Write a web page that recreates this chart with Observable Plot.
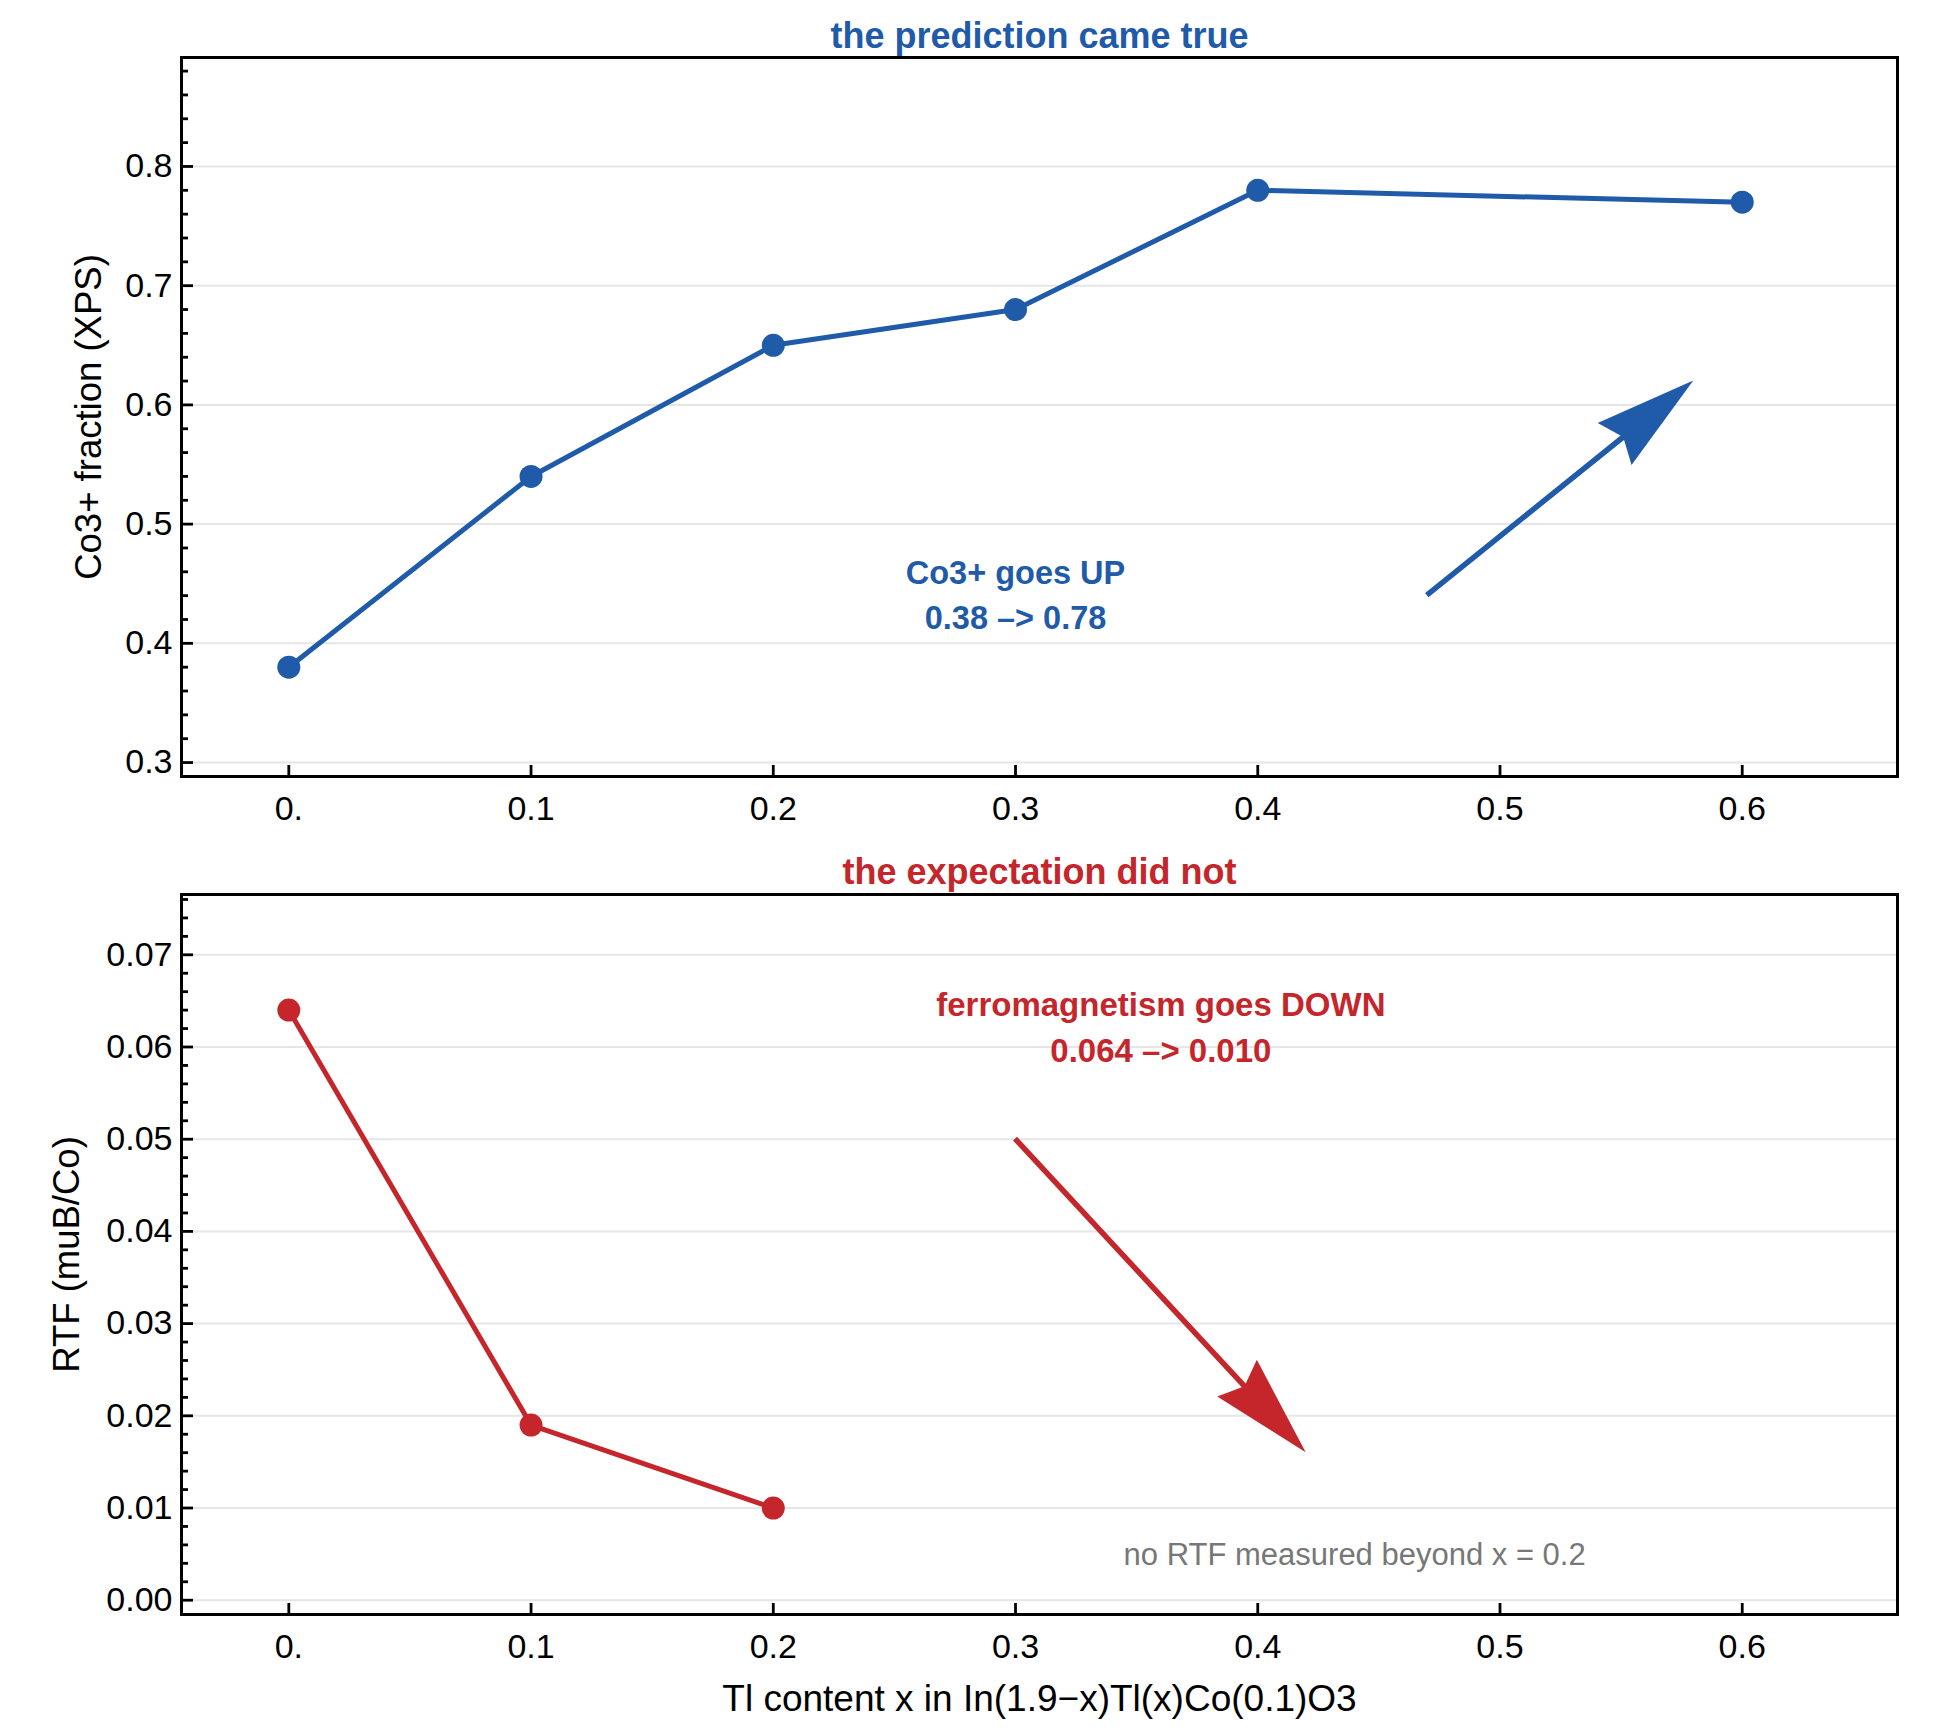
<!DOCTYPE html>
<html><head><meta charset="utf-8">
<script src="https://cdn.jsdelivr.net/npm/d3@7"></script>
<script src="https://cdn.jsdelivr.net/npm/@observablehq/plot@0.6"></script>
<style>
body{margin:0;background:#fff;}
#chart svg{display:block;}
</style>
</head><body><div id="chart"></div>
<script>
// ---- data ----
const tlContent = [0, 0.1, 0.2, 0.3, 0.4, 0.6];
const co3Fraction = [0.38, 0.54, 0.65, 0.68, 0.78, 0.77];
const rtfContent = [0, 0.1, 0.2];
const rtfValues = [0.064, 0.019, 0.010];

const xTicks = [0, 0.1, 0.2, 0.3, 0.4, 0.5, 0.6];
const xTickLabels = ["0.", "0.1", "0.2", "0.3", "0.4", "0.5", "0.6"];
const topYTicks = [0.3, 0.4, 0.5, 0.6, 0.7, 0.8];
const topYTickLabels = ["0.3", "0.4", "0.5", "0.6", "0.7", "0.8"];
const botYTicks = [0, 0.01, 0.02, 0.03, 0.04, 0.05, 0.06, 0.07];
const botYTickLabels = ["0.00", "0.01", "0.02", "0.03", "0.04", "0.05", "0.06", "0.07"];

const topTitle = "the prediction came true";
const botTitle = "the expectation did not";
const topYLabel = "Co3+ fraction (XPS)";
const botYLabel = "RTF (muB/Co)";
const xLabel = "Tl content x in In(1.9\u2212x)Tl(x)Co(0.1)O3";

const upArrow = [{x1: 0.47, y1: 0.44, x2: 0.58, y2: 0.62}];
const downArrow = [{x1: 0.30, y1: 0.050, x2: 0.42, y2: 0.016}];
const upNote = [{x: 0.30, y: 0.443, text: "Co3+ goes UP\n0.38 \u2013> 0.78"}];
const downNote = [{x: 0.36, y: 0.0625, text: "ferromagnetism goes DOWN\n0.064 \u2013> 0.010"}];
const grayNote = [{x: 0.44, y: 0.0049, text: "no RTF measured beyond x = 0.2"}];

// ---- styling ----
const BLUE = "#1f5ba8", RED = "#c4262b", GRAY = "#777777";
const FONT = "'Liberation Sans', Arial, Helvetica, sans-serif";
const xDomain = [-0.0443, 0.6641];

const topMinor = [];
for (let k = 16; k <= 44; k++) if (k % 5) topMinor.push(k * 0.02);
const botMinor = [];
for (let k = 1; k <= 38; k++) if (k % 5) botMinor.push(k * 0.002);

const fmtFrom = (ticks, labels) => d => { const i = ticks.findIndex(t => Math.abs(t - d) < 1e-9); return i >= 0 ? labels[i] : ""; };

function filledArrow(data, color) {
  return Plot.link(data, {
    x1: "x1", y1: "y1", x2: "x2", y2: "y2", stroke: color, strokeWidth: 5.5,
    render(index, scales, values, dimensions, context) {
      const g = d3.create("svg:g");
      for (const i of index) {
        const ax = values.x1[i], ay = values.y1[i], bx = values.x2[i], by = values.y2[i];
        const dx = bx - ax, dy = by - ay, L = Math.hypot(dx, dy);
        const ux = dx / L, uy = dy / L, nx = -uy, ny = ux;
        const headLen = 101, half = 27, notch = 90;
        const cx = bx - notch * ux, cy = by - notch * uy;
        g.append("line").attr("x1", ax).attr("y1", ay).attr("x2", cx + 6 * ux).attr("y2", cy + 6 * uy)
          .attr("stroke", color).attr("stroke-width", 5.5);
        const p = [
          [bx, by],
          [bx - headLen * ux + half * nx, by - headLen * uy + half * ny],
          [cx, cy],
          [bx - headLen * ux - half * nx, by - headLen * uy - half * ny]
        ];
        g.append("path").attr("d", "M" + p.map(q => q.join(",")).join("L") + "Z").attr("fill", color);
      }
      return g.node();
    }
  });
}

function panel({height, marginTop, marginBottom, yDomain, yTicks, yLabels, yMinor, title, titleColor, titleDy, yLabel, yLabelDx, marks, showXLabel}) {
  return Plot.plot({
    width: 1945, height,
    marginLeft: 181, marginRight: 48, marginTop, marginBottom,
    style: {fontFamily: FONT, fontSize: "34px", background: "#fff", color: "#000", overflow: "visible"},
    x: {domain: xDomain},
    y: {domain: yDomain},
    marks: [
      Plot.gridY(yTicks, {stroke: "#e6e6e6", strokeOpacity: 1, strokeWidth: 2}),
      ...marks,
      Plot.frame({stroke: "#000", strokeWidth: 3}),
      Plot.axisY(yTicks, {fill: "none", stroke: "#000", tickSize: -12, strokeWidth: 2.8, label: null}),
      Plot.axisY(yMinor, {fill: "none", stroke: "#000", tickSize: -7, strokeWidth: 2.8, label: null}),
      Plot.axisY(yTicks, {tickSize: 0, tickPadding: 9, tickFormat: fmtFrom(yTicks, yLabels), fontSize: 34, fill: "#000", label: null}),
      Plot.axisX(xTicks, {fill: "none", stroke: "#000", tickSize: -11, strokeWidth: 2.8, label: null}),
      Plot.axisX(xTicks, {tickSize: 0, tickPadding: 19, tickFormat: fmtFrom(xTicks, xTickLabels), fontSize: 34, fill: "#000", label: null}),
      Plot.text([title], {frameAnchor: "top", dy: titleDy, lineAnchor: "bottom", fill: titleColor, fontWeight: "bold", fontSize: 36}),
      Plot.text([yLabel], {frameAnchor: "left", dx: yLabelDx, rotate: -90, fill: "#000", fontSize: 36.5, textAnchor: "middle", lineAnchor: "middle"}),
      showXLabel ? Plot.text([xLabel], {frameAnchor: "bottom", dy: 85, fill: "#000", fontSize: 37, lineAnchor: "middle"}) : null
    ]
  });
}

const topPlot = panel({
  height: 860, marginTop: 57, marginBottom: 84,
  yDomain: [0.2883, 0.8914], yTicks: topYTicks, yLabels: topYTickLabels, yMinor: topMinor,
  title: topTitle, titleColor: BLUE, titleDy: -10, yLabel: topYLabel, yLabelDx: -92,
  marks: [
    Plot.line(tlContent.map((x, i) => ({x, y: co3Fraction[i]})), {x: "x", y: "y", stroke: BLUE, strokeWidth: 5}),
    Plot.dot(tlContent.map((x, i) => ({x, y: co3Fraction[i]})), {x: "x", y: "y", r: 11.5, fill: BLUE, stroke: "none"}),
    filledArrow(upArrow, BLUE),
    Plot.text(upNote, {x: "x", y: "y", text: "text", fill: BLUE, fontWeight: "bold", fontSize: 32.5, lineHeight: 1.38, lineAnchor: "middle"})
  ]
});

const botPlot = panel({
  height: 873, marginTop: 34, marginBottom: 119,
  yDomain: [-0.00155, 0.07654], yTicks: botYTicks, yLabels: botYTickLabels, yMinor: botMinor,
  title: botTitle, titleColor: RED, titleDy: -11, yLabel: botYLabel, yLabelDx: -114, showXLabel: true,
  marks: [
    Plot.line(rtfContent.map((x, i) => ({x, y: rtfValues[i]})), {x: "x", y: "y", stroke: RED, strokeWidth: 5}),
    Plot.dot(rtfContent.map((x, i) => ({x, y: rtfValues[i]})), {x: "x", y: "y", r: 11.5, fill: RED, stroke: "none"}),
    filledArrow(downArrow, RED),
    Plot.text(downNote, {x: "x", y: "y", text: "text", fill: RED, fontWeight: "bold", fontSize: 33, lineHeight: 1.4, lineAnchor: "middle"}),
    Plot.text(grayNote, {x: "x", y: "y", text: "text", fill: GRAY, fontSize: 31, lineAnchor: "middle"})
  ]
});

document.getElementById("chart").append(topPlot, botPlot);
</script>
</body></html>
